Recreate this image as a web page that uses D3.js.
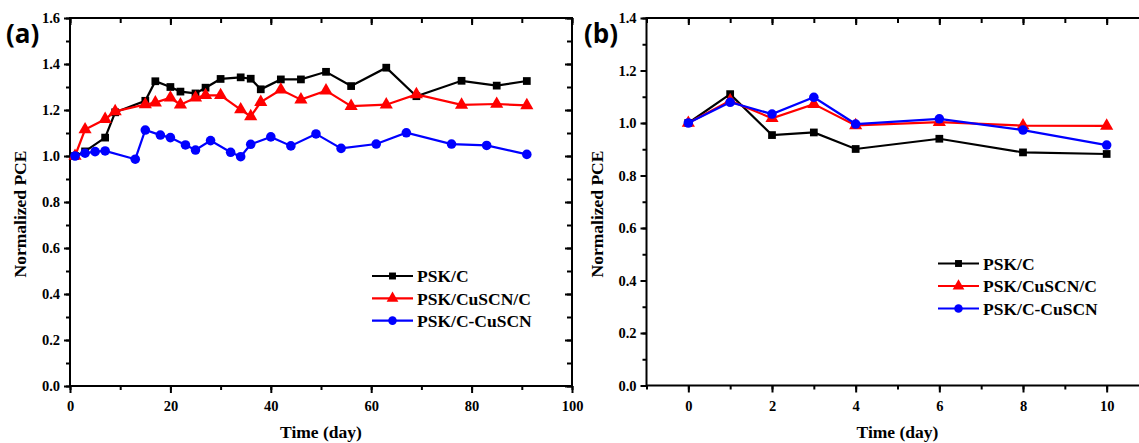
<!DOCTYPE html>
<html>
<head>
<meta charset="utf-8">
<script src="https://cdn.jsdelivr.net/npm/d3@7"></script>
<style>
  html, body { margin: 0; padding: 0; background: #fff; }
  svg { display: block; font-family: "Liberation Serif", "DejaVu Serif", serif; }
  .tick text { font-family: "Liberation Serif", serif; font-weight: bold; font-size: 14.5px; fill: #000; }
</style>
</head>
<body>
<svg id="chart" width="1139" height="443"></svg>
<script>
'use strict';

// panel (a): long-term stability, days
const daysA = [1, 3, 7, 9, 15, 17, 20, 22, 25, 27, 30, 34, 36, 38, 42, 46, 51, 56, 63, 69, 78, 85, 91];
const pskC_A = [1.00, 1.02, 1.08, 1.19, 1.24, 1.325, 1.30, 1.28, 1.272, 1.297, 1.335, 1.342, 1.336, 1.29, 1.333, 1.333, 1.366, 1.304, 1.384, 1.26, 1.327, 1.306, 1.326];
const pskCuscnC_A = [1.00, 1.115, 1.16, 1.194, 1.224, 1.232, 1.253, 1.223, 1.253, 1.264, 1.264, 1.202, 1.172, 1.234, 1.288, 1.245, 1.284, 1.217, 1.223, 1.268, 1.222, 1.226, 1.220];
const daysBlueA = [1, 3, 5, 7, 13, 15, 18, 20, 23, 25, 28, 32, 34, 36, 40, 44, 49, 54, 61, 67, 76, 83, 91];
const pskCCuscn_A = [1.00, 1.012, 1.019, 1.022, 0.986, 1.113, 1.091, 1.08, 1.048, 1.026, 1.067, 1.016, 0.997, 1.051, 1.083, 1.044, 1.096, 1.033, 1.052, 1.101, 1.052, 1.046, 1.007];

// panel (b): short-term, days
const daysB = [0, 1, 2, 3, 4, 6, 8, 10];
const pskC_B = [1.00, 1.110, 0.954, 0.964, 0.901, 0.940, 0.888, 0.882];
const pskCuscnC_B = [1.00, 1.085, 1.018, 1.072, 0.991, 1.003, 0.990, 0.989];
const pskCCuscn_B = [1.00, 1.079, 1.034, 1.098, 0.996, 1.016, 0.973, 0.916];

const seriesNames = ["PSK/C", "PSK/CuSCN/C", "PSK/C-CuSCN"];
const seriesColors = ["#000000", "#ff0000", "#0000ff"];
const seriesSymbols = [d3.symbolSquare, d3.symbolTriangle, d3.symbolCircle];
const symbolSizes = [60, 75, 72];

const xTicksA = [0, 20, 40, 60, 80, 100];
const xTicksB = [0, 2, 4, 6, 8, 10];
const yTicksA = [0, 0.2, 0.4, 0.6, 0.8, 1.0, 1.2, 1.4, 1.6];
const yTicksB = [0, 0.2, 0.4, 0.6, 0.8, 1.0, 1.2, 1.4];

const svg = d3.select("#chart");

function drawPanel(p) {
	let x = d3.scaleLinear().domain(p.xDomain).range([p.left, p.right]);
	let y = d3.scaleLinear().domain(p.yDomain).range([p.bottom, p.top]);
	let g = svg.append("g");

	// minor ticks (all four sides)
	let minorX = d3.range(p.xDomain[0], p.xDomain[1] + 1e-9, p.xMinor);
	let minorY = d3.range(p.yDomain[0], p.yDomain[1] + 1e-9, 0.1);
	g.append("g").attr("transform", "translate(0," + p.bottom + ")")
		.call(d3.axisBottom(x).tickValues(minorX).tickSize(4).tickFormat(""));
	g.append("g").attr("transform", "translate(0," + p.top + ")")
		.call(d3.axisBottom(x).tickValues(minorX).tickSize(5).tickFormat(""));
	g.append("g").attr("transform", "translate(" + p.left + ",0)")
		.call(d3.axisLeft(y).tickValues(minorY).tickSize(4).tickFormat(""));
	g.append("g").attr("transform", "translate(" + p.right + ",0)")
		.call(d3.axisLeft(y).tickValues(minorY).tickSize(5).tickFormat(""));

	// major ticks
	g.append("g").attr("transform", "translate(0," + p.bottom + ")")
		.call(d3.axisBottom(x).tickValues(p.xTicks).tickSize(7).tickPadding(8).tickFormat(d3.format("d")));
	g.append("g").attr("transform", "translate(0," + p.top + ")")
		.call(d3.axisBottom(x).tickValues(p.xTicks).tickSize(7).tickFormat(""));
	g.append("g").attr("transform", "translate(" + p.left + ",0)")
		.call(d3.axisLeft(y).tickValues(p.yTicks).tickSize(6).tickPadding(4).tickFormat(d3.format(".1f")));
	g.append("g").attr("transform", "translate(" + p.right + ",0)")
		.call(d3.axisLeft(y).tickValues(p.yTicks).tickSize(7).tickFormat(""));

	g.selectAll(".domain").remove();
	g.selectAll(".tick line").attr("stroke", "#000").attr("stroke-width", 2);

	// frame
	g.append("rect")
		.attr("x", p.left).attr("y", p.top)
		.attr("width", p.right - p.left).attr("height", p.bottom - p.top)
		.attr("fill", "none").attr("stroke", "#000").attr("stroke-width", 2);

	let line = d3.line().x(d => x(d[0])).y(d => y(d[1]));
	p.series.forEach(function(s, i) {
		let pts = d3.zip(s.xs, s.ys);
		g.append("path").datum(pts)
			.attr("d", line).attr("fill", "none")
			.attr("stroke", seriesColors[i]).attr("stroke-width", 2.2);
		g.selectAll(".pt" + i).data(pts).enter().append("path")
			.attr("transform", d => "translate(" + x(d[0]) + "," + y(d[1]) + ")")
			.attr("d", d3.symbol().type(seriesSymbols[i]).size(symbolSizes[i]))
			.attr("fill", seriesColors[i]);
	});

	// legend
	seriesNames.forEach(function(name, i) {
		let ly = p.legendY + i * p.legendStep;
		g.append("line")
			.attr("x1", p.legendX).attr("x2", p.legendX + 41)
			.attr("y1", ly).attr("y2", ly)
			.attr("stroke", seriesColors[i]).attr("stroke-width", 2.2);
		g.append("path")
			.attr("transform", "translate(" + (p.legendX + 20.5) + "," + ly + ")")
			.attr("d", d3.symbol().type(seriesSymbols[i]).size(symbolSizes[i] * 0.8))
			.attr("fill", seriesColors[i]);
		g.append("text")
			.attr("x", p.legendX + 45).attr("y", ly).attr("dy", "0.36em")
			.attr("font-size", 17.5).attr("font-weight", "bold")
			.text(name);
	});

	// axis titles
	g.append("text")
		.attr("x", (p.left + p.right) / 2 + p.xTitleShift).attr("y", 438)
		.attr("text-anchor", "middle")
		.attr("font-size", 17.5).attr("font-weight", "bold")
		.text("Time (day)");
	g.append("text")
		.attr("transform", "translate(" + p.yTitleX + ",214) rotate(-90)")
		.attr("text-anchor", "middle").attr("dy", "0.35em")
		.attr("font-size", 17.5).attr("font-weight", "bold")
		.text("Normalized PCE");

	// panel letter
	g.append("text")
		.attr("x", p.letterX).attr("y", 43)
		.attr("font-family", "'Open Sans', 'DejaVu Sans', sans-serif")
		.attr("font-size", 26).attr("font-weight", "bold")
		.text(p.letter);
}

drawPanel({
	left: 70, right: 572, top: 18, bottom: 386,
	xDomain: [0, 100], yDomain: [0, 1.6], xMinor: 10,
	xTicks: xTicksA, yTicks: yTicksA,
	series: [
		{xs: daysA, ys: pskC_A},
		{xs: daysA, ys: pskCuscnC_A},
		{xs: daysBlueA, ys: pskCCuscn_A}
	],
	legendX: 372, legendY: 276, legendStep: 22.3,
	yTitleX: 20, xTitleShift: 0, letterX: 6, letter: "(a)"
});

drawPanel({
	left: 646.5, right: 1148.5, top: 18, bottom: 385.5,
	xDomain: [-1, 11], yDomain: [0, 1.4], xMinor: 1,
	xTicks: xTicksB, yTicks: yTicksB,
	series: [
		{xs: daysB, ys: pskC_B},
		{xs: daysB, ys: pskCuscnC_B},
		{xs: daysB, ys: pskCCuscn_B}
	],
	legendX: 938, legendY: 263.5, legendStep: 22.5,
	yTitleX: 597, xTitleShift: 0, letterX: 584, letter: "(b)"
});
</script>
</body>
</html>
